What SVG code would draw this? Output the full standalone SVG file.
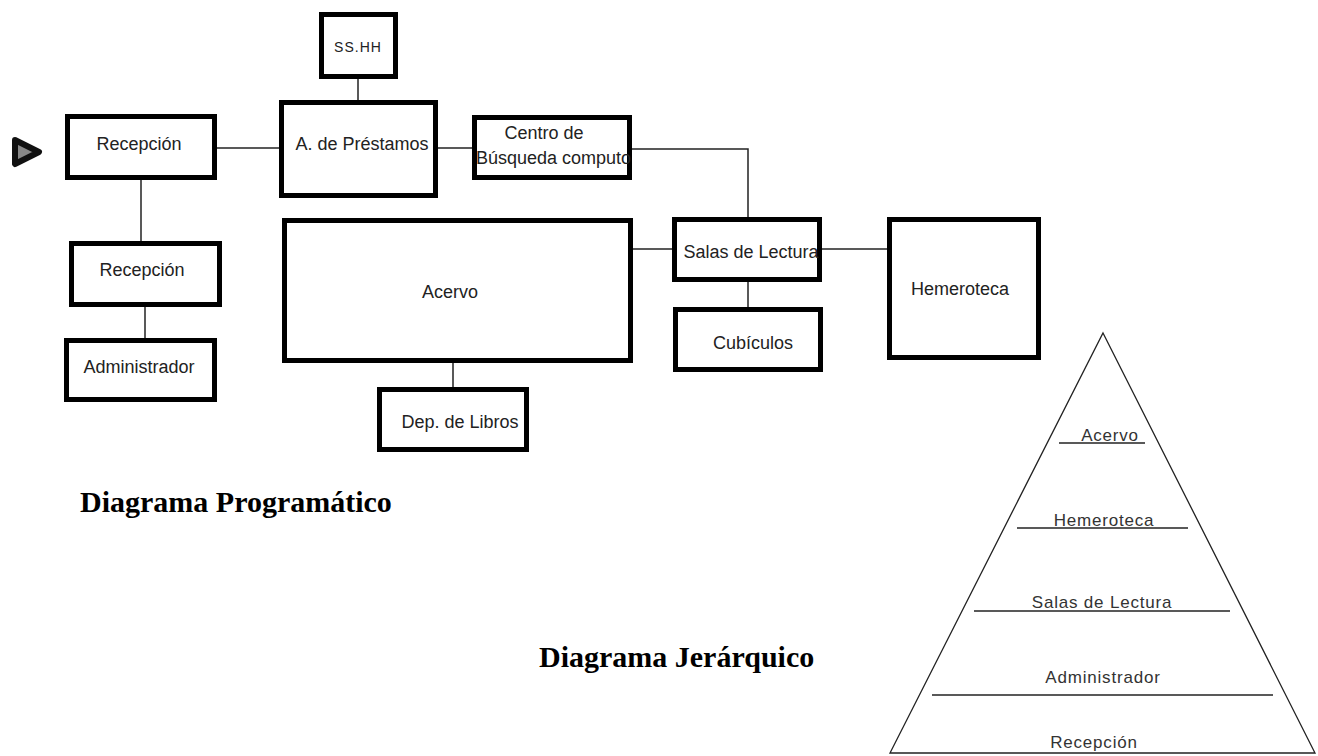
<svg xmlns="http://www.w3.org/2000/svg" width="1318" height="756" viewBox="0 0 1318 756">
<style>
.box{fill:#fff;stroke:#000;stroke-width:5}
.lbl{font-family:"Liberation Sans",Arial,sans-serif;font-size:18px;fill:#222;text-anchor:middle}
.conn{stroke:#222;stroke-width:1.5;fill:none}
.pyr{font-family:"Liberation Sans",Arial,sans-serif;font-size:17px;fill:#333;text-anchor:middle;letter-spacing:0.8px}
.pline{stroke:#222;stroke-width:1.5}
.title{font-family:"Liberation Serif","Times New Roman",serif;font-weight:bold;font-size:30px;fill:#000}
</style>
<rect width="1318" height="756" fill="#fff"/>
<g id="connectors">
<line class="conn" x1="358" y1="79" x2="358" y2="100"/>
<line class="conn" x1="217" y1="148" x2="279" y2="148"/>
<line class="conn" x1="438" y1="148" x2="472" y2="148"/>
<polyline class="conn" points="632,149 748,149 748,217"/>
<line class="conn" x1="141" y1="180" x2="141" y2="241"/>
<line class="conn" x1="145" y1="307" x2="145" y2="338"/>
<line class="conn" x1="453" y1="363" x2="453" y2="387"/>
<line class="conn" x1="633" y1="249" x2="672" y2="249"/>
<line class="conn" x1="748" y1="282" x2="748" y2="307"/>
<line class="conn" x1="822" y1="249" x2="887" y2="249"/>
</g>
<g id="entry">
<path d="M15,140 L39,152 L15,164 Z" fill="#888" stroke="#111" stroke-width="6" stroke-linejoin="round"/>
</g>
<g id="ssHH">
<rect class="box" x="321.5" y="14.5" width="74" height="62"/>
<text class="lbl" x="358" y="52" style="font-size:14px;letter-spacing:1px">SS.HH</text>
</g>
<g id="prestamos">
<rect class="box" x="281.5" y="102.5" width="154" height="93"/>
<text class="lbl" x="362" y="150">A. de Préstamos</text>
</g>
<g id="recepcion1">
<rect class="box" x="67.5" y="116.5" width="147" height="61"/>
<text class="lbl" x="139" y="150">Recepción</text>
</g>
<g id="centro">
<rect class="box" x="474.5" y="117.5" width="155" height="60"/>
<text class="lbl" x="544" y="139">Centro de</text>
<text class="lbl" x="476" y="164" style="text-anchor:start">Búsqueda computo</text>
</g>
<g id="recepcion2">
<rect class="box" x="71.5" y="243.5" width="148" height="61"/>
<text class="lbl" x="142" y="276">Recepción</text>
</g>
<g id="administrador">
<rect class="box" x="66.5" y="340.5" width="148" height="59"/>
<text class="lbl" x="139" y="373">Administrador</text>
</g>
<g id="acervo">
<rect class="box" x="284.5" y="220.5" width="346" height="140"/>
<text class="lbl" x="450" y="298">Acervo</text>
</g>
<g id="depLibros">
<rect class="box" x="379.5" y="389.5" width="147" height="60"/>
<text class="lbl" x="460" y="428">Dep. de Libros</text>
</g>
<g id="salas">
<rect class="box" x="674.5" y="219.5" width="145" height="60"/>
<text class="lbl" x="751" y="258">Salas de Lectura</text>
</g>
<g id="cubiculos">
<rect class="box" x="675.5" y="309.5" width="145" height="60"/>
<text class="lbl" x="753" y="349">Cubículos</text>
</g>
<g id="hemeroteca">
<rect class="box" x="889.5" y="219.5" width="149" height="138"/>
<text class="lbl" x="960" y="295">Hemeroteca</text>
</g>
<text class="title" x="80" y="512">Diagrama Programático</text>
<text class="title" x="539" y="667">Diagrama Jerárquico</text>
<g id="piramide">
<polygon points="1103,333 1315,753 890,753" fill="none" stroke="#222" stroke-width="1.3"/>
<line class="pline" x1="1059" y1="443" x2="1145" y2="443"/>
<line class="pline" x1="1017" y1="528" x2="1188" y2="528"/>
<line class="pline" x1="974" y1="611" x2="1230" y2="611"/>
<line class="pline" x1="932" y1="695" x2="1273" y2="695"/>
<text class="pyr" x="1110" y="441">Acervo</text>
<text class="pyr" x="1104" y="526">Hemeroteca</text>
<text class="pyr" x="1102" y="608">Salas de Lectura</text>
<text class="pyr" x="1103" y="683">Administrador</text>
<text class="pyr" x="1094" y="748">Recepción</text>
</g>
</svg>
